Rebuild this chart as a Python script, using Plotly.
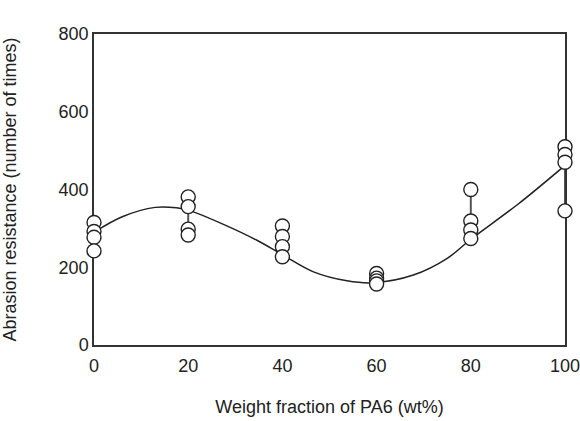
import plotly.graph_objects as go

# Measured data (weight fraction of PA6 vs abrasion resistance)
wt_fraction = [0, 20, 40, 60, 80, 100]
measurements = [
    [315, 292, 277, 242],   # 0 wt%
    [381, 356, 298, 283],   # 20 wt%
    [306, 279, 253, 227],   # 40 wt%
    [184, 172, 165, 157],   # 60 wt%
    [400, 319, 296, 274],   # 80 wt%
    [510, 490, 470, 345],   # 100 wt%
]

# Trend curve
curve_x = [0, 6, 13, 17.5, 20, 27, 34.5, 40, 46.6, 53.7, 59.3, 67.8, 75, 80, 90, 100]
curve_y = [290, 330, 354, 353, 347, 313, 270, 232, 188, 165, 160, 180, 223, 272, 362, 462]

x_ticks = [0, 20, 40, 60, 80, 100]
y_ticks = [0, 200, 400, 600, 800]

FONT = "Liberation Sans, Arial, Helvetica, sans-serif"

fig = go.Figure()

# range lines (min to max at each fraction)
rx, ry = [], []
for xv, vals in zip(wt_fraction, measurements):
    rx += [xv, xv, None]
    ry += [min(vals), max(vals), None]
fig.add_trace(go.Scatter(x=rx, y=ry, mode="lines",
                         line=dict(color="#555555", width=2),
                         hoverinfo="skip", showlegend=False, cliponaxis=False))

# trend curve
fig.add_trace(go.Scatter(x=curve_x, y=curve_y, mode="lines",
                         line=dict(color="#222222", width=1.5, shape="spline", smoothing=1.0),
                         showlegend=False, cliponaxis=False))

# individual points
px, py = [], []
for xv, vals in zip(wt_fraction, measurements):
    for v in vals:
        px.append(xv)
        py.append(v)
fig.add_trace(go.Scatter(x=px, y=py, mode="markers",
                         marker=dict(symbol="circle", size=14, color="white",
                                     line=dict(color="#222222", width=1.4)),
                         showlegend=False, cliponaxis=False))

axis_common = dict(showgrid=False, zeroline=False, showline=True, mirror=True,
                   linecolor="#333333", linewidth=1.5,
                   tickcolor="rgba(0,0,0,0)",
                   tickfont=dict(family=FONT, size=18, color="#222222"),
                   layer="below traces", automargin=False)

fig.update_xaxes(range=[0, 100], tickvals=x_ticks, ticktext=[str(t) for t in x_ticks],
                 ticks="outside", ticklen=4, ticklabeloverflow="allow",
                 title=dict(text="Weight fraction of PA6 (wt%)", standoff=25,
                            font=dict(family=FONT, size=18, color="#222222")),
                 **axis_common)
fig.update_yaxes(range=[0, 800], tickvals=y_ticks, ticktext=[str(t) for t in y_ticks],
                 ticks="",
                 title=dict(text="Abrasion resistance (number of times)", standoff=38,
                            font=dict(family=FONT, size=18, color="#222222")),
                 **axis_common)

fig.update_layout(width=580, height=421,
                  margin=dict(l=94, r=15, t=34, b=76),
                  paper_bgcolor="white", plot_bgcolor="white")

# remove the default 8 px page margin so the figure fills the window exactly
fig.write_html("out.html",
               config={"displayModeBar": False},
               post_script="document.body.style.margin='0';document.body.style.overflow='hidden';")
